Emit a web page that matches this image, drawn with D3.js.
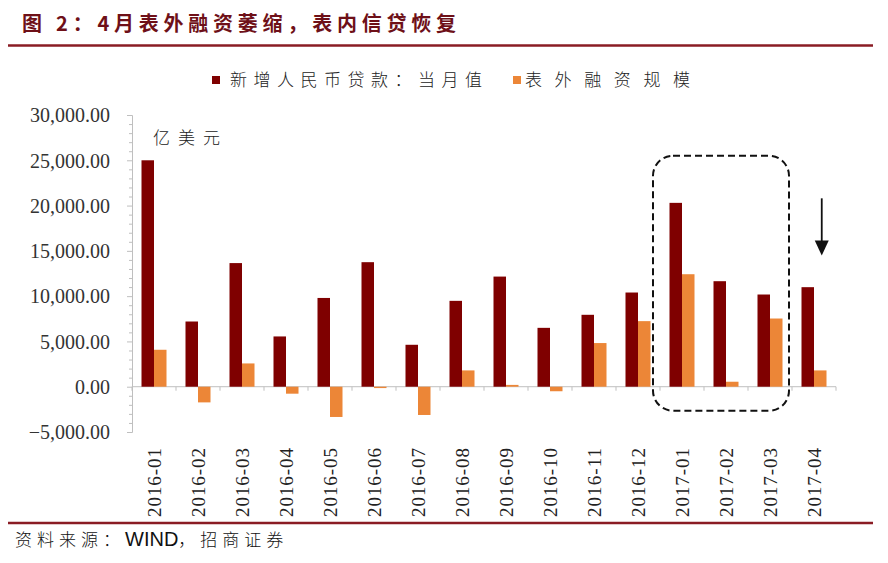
<!DOCTYPE html>
<html><head><meta charset="utf-8">
<script src="https://cdn.jsdelivr.net/npm/d3@7/dist/d3.min.js"></script>
<style>
html,body{margin:0;padding:0;background:#fff;}
svg{display:block;}
text.serif, .serif{font-family:"Times New Roman","Liberation Serif","DejaVu Serif",serif !important;}
.cjk{font-family:"Noto Sans CJK SC",sans-serif;}
</style></head>
<body><svg id="c" width="888" height="563"></svg>
<script>
const categories = ["2016-01","2016-02","2016-03","2016-04","2016-05","2016-06","2016-07","2016-08","2016-09","2016-10","2016-11","2016-12","2017-01","2017-02","2017-03","2017-04"];
const seriesNames = ["新增人民币贷款：当月值","表外融资规模"];
const newLoans = [25000,7200,13650,5550,9800,13750,4630,9480,12160,6500,7940,10400,20300,11650,10180,10990];
const offBalance = [4080,-1730,2570,-770,-3340,-150,-3120,1800,200,-500,4820,7240,12420,550,7530,1800];
const yTicks = [-5000,0,5000,10000,15000,20000,25000,30000];
const colors = ["#7f0000","#ec8637"];
const title = "图 2：4月表外融资萎缩，表内信贷恢复";
const unitLabel = "亿美元";
const sourceParts = ["资料来源：","WIND","，招商证券"];
const boxRange = {from:"2017-01", to:"2017-03", top:25500, bottom:-2650};
const arrowSpec = {cat:"2017-04", from:20800, to:14500};

(function(){
const svg = d3.select("#c");
const pL=132, pR=836, pT=115, pB=432;
const y = d3.scaleLinear().domain([-5000,30000]).range([pB, pT]);
const x = d3.scaleBand().domain(categories).range([pL,pR]).padding(0);
const pairW = 25;
const x1 = d3.scaleBand().domain(seriesNames).range([0,pairW]);
const off = (x.bandwidth()-pairW)/2;
const darkRed = "#8a1c24";
const serifFam = "'Times New Roman','Liberation Serif','DejaVu Serif',serif";

// title
svg.append("text").attr("class","cjk").attr("x",22).attr("y",31).text(title)
  .attr("font-weight","bold").attr("font-size",20)
  .attr("fill","#6e1018").attr("textLength",434).attr("lengthAdjust","spacing");
svg.append("line").attr("x1",8).attr("x2",873).attr("y1",45.5).attr("y2",45.5).attr("stroke",darkRed).attr("stroke-width",2.5);
svg.append("line").attr("x1",8).attr("x2",873).attr("y1",523).attr("y2",523).attr("stroke",darkRed).attr("stroke-width",2.5);

// source
const src = svg.append("text").attr("x",15).attr("y",546).attr("font-size",17).attr("fill","#111");
src.append("tspan").attr("class","cjk").attr("font-weight",300).style("letter-spacing","5px").text(sourceParts[0]);
src.append("tspan").attr("font-family","'Liberation Sans', Arial, sans-serif").attr("font-size",20).text(sourceParts[1]);
src.append("tspan").attr("class","cjk").attr("font-weight",300).style("letter-spacing","5px").text(sourceParts[2]);

// legend
const legX=[212,513], legTextX=[230,525], legW=[252,165];
seriesNames.forEach((n,i)=>{
  svg.append("rect").attr("x",legX[i]).attr("y",76).attr("width",8).attr("height",8).attr("fill",colors[i]);
  svg.append("text").attr("class","cjk").attr("x",legTextX[i]).attr("y",86).text(n)
    .attr("font-size",17).attr("font-weight",300).attr("fill","#222")
    .attr("textLength",legW[i]).attr("lengthAdjust","spacing");
});

// unit label
svg.append("text").attr("class","cjk").attr("x",153).attr("y",144).text(unitLabel)
  .attr("font-size",17).attr("font-weight",300).attr("fill","#222")
  .attr("textLength",67).attr("lengthAdjust","spacing");

// y axis
const axisCol="#bfbfbf";
const yAxis = d3.axisLeft(y).tickValues(yTicks).tickSize(5).tickFormat(d3.format(",.2f"));
const gy = svg.append("g").attr("transform",`translate(${pL},0)`).call(yAxis).attr("font-family",serifFam);
gy.select(".domain").attr("stroke",axisCol);
gy.selectAll(".tick line").attr("stroke",axisCol);
gy.selectAll(".tick text").attr("class","serif").attr("font-family",serifFam).style("font-family",serifFam)
  .attr("font-size",20).attr("fill","#333").attr("x",-22).attr("dy","0.34em");
const minor = d3.range(-5000,30001,1000).filter(v=>v%5000!==0);
gy.selectAll(".minor").data(minor).enter().append("line").attr("class","minor")
  .attr("x1",-3).attr("x2",0).attr("y1",d=>y(d)+0.5).attr("y2",d=>y(d)+0.5).attr("stroke",axisCol);

// x axis at zero
const zy = y(0);
svg.append("line").attr("x1",pL).attr("x2",pR).attr("y1",zy).attr("y2",zy).attr("stroke",axisCol);
svg.selectAll(".xtick").data(categories.concat(["__end"])).enter().append("line")
  .attr("x1",(d,i)=>pL+i*x.bandwidth()).attr("x2",(d,i)=>pL+i*x.bandwidth())
  .attr("y1",zy).attr("y2",zy+4).attr("stroke",axisCol);

// bars
const seriesData=[newLoans,offBalance];
seriesData.forEach((vals,si)=>{
  svg.append("g").selectAll("rect").data(vals).enter().append("rect")
    .attr("x",(d,i)=>x(categories[i])+off+x1(seriesNames[si]))
    .attr("width",x1.bandwidth())
    .attr("y",d=>y(Math.max(0,d)))
    .attr("height",d=>Math.abs(y(d)-y(0)))
    .attr("fill",colors[si]);
});

// x labels
svg.selectAll(".xl").data(categories).enter().append("text").attr("class","serif")
  .attr("transform",d=>`translate(${x(d)+x.bandwidth()/2+7},517) rotate(-90)`)
  .text(d=>d).attr("font-family",serifFam).style("font-family",serifFam).attr("font-size",19).attr("fill","#222")
  .attr("textLength",69).attr("lengthAdjust","spacing");

// dashed box
const bx0 = x(boxRange.from)-7, bx1 = x(boxRange.to)+x.bandwidth()-3;
svg.append("rect").attr("x",bx0).attr("y",y(boxRange.top)).attr("width",bx1-bx0)
  .attr("height",y(boxRange.bottom)-y(boxRange.top)).attr("rx",20).attr("ry",20)
  .attr("fill","none").attr("stroke","#111").attr("stroke-width",2).attr("stroke-dasharray","7,4");

// arrow
const ax = x(arrowSpec.cat)+off+x1(seriesNames[1])+x1.bandwidth()/2+1.5;
const ay0=y(arrowSpec.from), ay1=y(arrowSpec.to);
svg.append("line").attr("x1",ax).attr("x2",ax).attr("y1",ay0).attr("y2",ay1-12).attr("stroke","#111").attr("stroke-width",1.8);
svg.append("path").attr("d",`M${ax-7},${ay1-15}L${ax+7},${ay1-15}L${ax},${ay1}Z`).attr("fill","#111");
})();
</script></body></html>
